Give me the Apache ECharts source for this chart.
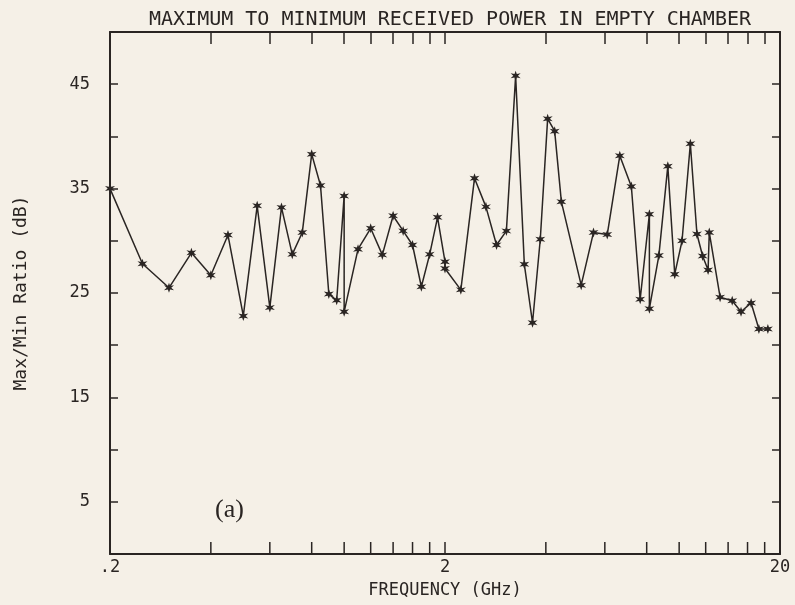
<!DOCTYPE html>
<html>
<head>
<meta charset="utf-8">
<script src="https://cdn.jsdelivr.net/npm/echarts@6/dist/echarts.min.js"></script>
<style>
  html, body { margin: 0; padding: 0; background: #f5f0e7; }
  #main { width: 795px; height: 605px; }
</style>
</head>
<body>
<div id="main"></div>
<script>
// frequency (GHz) and max/min ratio (dB)
var freqGHz = [0.2, 0.25, 0.30, 0.35, 0.40, 0.45, 0.50, 0.55, 0.60, 0.65,
  0.70, 0.75, 0.80, 0.85, 0.90, 0.95, 1.0, 1.0, 1.1, 1.2,
  1.3, 1.4, 1.5, 1.6, 1.7, 1.8, 1.9, 2.0, 2.0, 2.23,
  2.45, 2.65, 2.85, 3.05, 3.25, 3.45, 3.65, 3.85, 4.05, 4.25,
  4.45, 5.1, 5.55, 6.1, 6.65, 7.2, 7.65, 8.15, 8.15, 8.7,
  9.25, 9.7, 10.2, 10.8, 11.3, 11.75, 12.2, 12.3, 13.25, 14.4,
  15.3, 16.4, 17.3, 18.4];
var ratioDb = [35.0, 27.8, 25.5, 28.85, 26.7, 30.55, 22.8, 33.35, 23.6, 33.2,
  28.7, 30.8, 38.3, 35.3, 24.9, 24.3, 34.3, 23.2, 29.2, 31.2,
  28.65, 32.4, 30.95, 29.6, 25.6, 28.7, 32.25, 28.0, 27.35, 25.3,
  36.0, 33.25, 29.6, 30.95, 45.8, 27.75, 22.15, 30.15, 41.7, 40.5,
  33.75, 25.75, 30.8, 30.6, 38.15, 35.2, 24.4, 32.55, 23.5, 28.6,
  37.15, 26.8, 30.0, 39.3, 30.65, 28.55, 27.2, 30.8, 24.6, 24.25,
  23.2, 24.05, 21.55, 21.55];

var xTickValues = [0.4, 0.6, 0.8, 1.0, 1.2, 1.4, 1.6, 1.8, 2, 4, 6, 8, 10, 12, 14, 16, 18];
var xLabelValues = [0.2, 2, 20];
var yLabelValues = [5, 15, 25, 35, 45];

var ink = '#2a2523';
var mono = '"DejaVu Sans Mono", monospace';
var star = 'path://M0,-10 L2,-3.46 L8.66,-5 L4,0 L8.66,5 L2,3.46 L0,10 L-2,3.46 L-8.66,5 L-4,0 L-8.66,-5 L-2,-3.46 Z';

var chart = echarts.init(document.getElementById('main'));

// bottom axis: line + labels + name
var xBottom = {
  type: 'log', logBase: 10, position: 'bottom', min: 0.2, max: 20,
  name: 'FREQUENCY (GHz)',
  nameLocation: 'middle',
  nameGap: 28,
  nameTextStyle: { color: ink, fontFamily: mono, fontSize: 17 },
  axisLine: { show: true, lineStyle: { color: ink, width: 2 } },
  axisTick: { show: false },
  axisLabel: { show: true, customValues: xLabelValues, color: ink,
    fontFamily: mono, fontSize: 17, margin: 5,
    formatter: function (v) {
      var r = Math.round(v * 10) / 10;
      return r < 1 ? String(r).replace('0.', '.') : String(r);
    } },
  splitLine: { show: false }
};

// top axis: frame line + inward ticks
var xTop = {
  type: 'log', logBase: 10, position: 'top', min: 0.2, max: 20,
  axisLine: { show: true, onZero: false, lineStyle: { color: ink, width: 2 } },
  axisTick: { show: true, inside: true, length: 12, customValues: xTickValues,
    lineStyle: { color: ink, width: 1.5 } },
  axisLabel: { show: false },
  splitLine: { show: false }
};

function yAxisCfg(pos, withLabels) {
  return {
    type: 'value',
    position: pos,
    min: 0,
    max: 50,
    interval: 5,
    name: withLabels ? 'Max/Min Ratio (dB)' : '',
    nameLocation: 'middle',
    nameRotate: 90,
    nameGap: 80,
    nameTextStyle: { color: ink, fontFamily: mono, fontSize: 18 },
    axisLine: { show: true, lineStyle: { color: ink, width: 2 } },
    axisTick: { show: true, inside: true, length: 8, lineStyle: { color: ink, width: 1.5 } },
    axisLabel: { show: withLabels, customValues: yLabelValues, color: ink,
      fontFamily: mono, fontSize: 17, margin: 20 },
    splitLine: { show: false }
  };
}

var option = {
  backgroundColor: '#f5f0e7',
  animation: false,
  title: {
    text: 'MAXIMUM TO MINIMUM RECEIVED POWER IN EMPTY CHAMBER',
    left: 445,
    textAlign: 'center',
    top: 5,
    textStyle: { color: ink, fontFamily: mono, fontSize: 20, fontWeight: 'normal' }
  },
  grid: { left: 110, right: 15, top: 32, bottom: 51 },
  xAxis: [xBottom, xTop],
  yAxis: [yAxisCfg('left', true), yAxisCfg('right', false)],
  graphic: [{
    type: 'text',
    left: 215,
    top: 497,
    style: { text: '(a)', fill: ink, font: '26px "Liberation Serif", serif' }
  }],
  series: [{
    type: 'line',
    xAxisIndex: 0,
    yAxisIndex: 0,
    clip: false,
    data: freqGHz.map(function (f, i) { return [f, ratioDb[i]]; }),
    symbol: star,
    symbolSize: 10,
    lineStyle: { color: ink, width: 1.5 },
    itemStyle: { color: ink }
  }, {
    // bottom axis ticks: thin bars sitting on y = 0, pointing up
    type: 'scatter',
    xAxisIndex: 0,
    yAxisIndex: 0,
    clip: false,
    silent: true,
    z: 10,
    data: xTickValues.map(function (v) { return [v, 0]; }),
    symbol: 'rect',
    symbolSize: [1.5, 12],
    symbolOffset: [0, -6],
    itemStyle: { color: ink, opacity: 1 }
  }]
};

chart.setOption(option);
</script>
</body>
</html>
